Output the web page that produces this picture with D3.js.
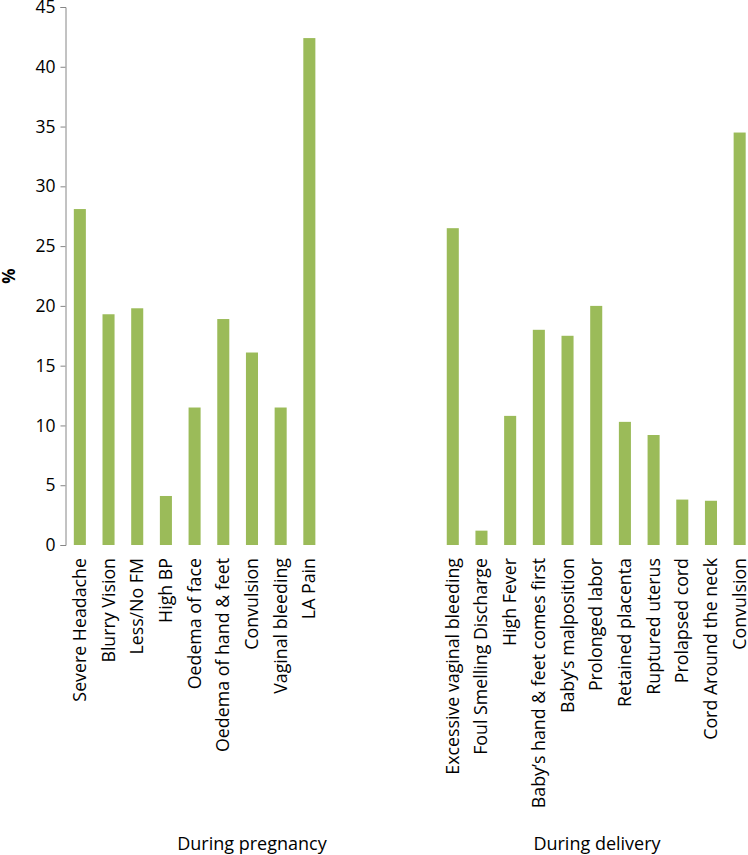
<!DOCTYPE html>
<html><head><meta charset="utf-8">
<script src="https://cdn.jsdelivr.net/npm/d3@7"></script>
<style>body{margin:0;background:#fff}svg{display:block}text{font-family:"Open Sans",sans-serif;fill:#000}</style>
</head><body><div id="chart"></div>
<script>
const pregnancyLabels = ["Severe Headache","Blurry Vision","Less/No FM","High BP","Oedema of face","Oedema of hand & feet","Convulsion","Vaginal bleeding","LA Pain"];
const pregnancyValues = [28.1,19.3,19.8,4.1,11.5,18.9,16.1,11.5,42.4];
const deliveryLabels = ["Excessive vaginal bleeding","Foul Smelling Discharge","High Fever","Baby’s hand & feet comes first","Baby’s malposition","Prolonged labor","Retained placenta","Ruptured uterus","Prolapsed cord","Cord Around the neck","Convulsion"];
const deliveryValues = [26.5,1.2,10.8,18.0,17.5,20.0,10.3,9.2,3.8,3.7,34.5];
const groupLabels = ["During pregnancy","During delivery"];
const yTicks = [0,5,10,15,20,25,30,35,40,45];
const gapSlots = 4;

const W = 748, H = 855;
const svg = d3.select("#chart").append("svg").attr("width", W).attr("height", H);

const data = [];
pregnancyLabels.forEach((l,i)=>data.push({key:"p"+i,label:l,value:pregnancyValues[i],group:0}));
for(let g=0; g<gapSlots; g++) data.push({key:"gap"+g,label:"",value:null,group:-1});
deliveryLabels.forEach((l,i)=>data.push({key:"d"+i,label:l,value:deliveryValues[i],group:1}));

const x = d3.scaleBand().domain(data.map(d=>d.key)).range([65.5, 754]).paddingInner(0.58).paddingOuter(0.29);
const y = d3.scaleLinear().domain([0,45]).range([545,7]);

// y axis
const yAxis = svg.append("g").attr("transform","translate(65.5,0)")
  .call(d3.axisLeft(y).tickValues(yTicks).tickSize(5).tickPadding(5).tickFormat(d3.format("d")));
yAxis.select(".domain").attr("stroke","#868686");
yAxis.selectAll(".tick line").attr("stroke","#868686");
yAxis.selectAll(".tick text").style("font-size","17.5px").attr("fill","#000");

// bars
svg.append("g").selectAll("rect").data(data.filter(d=>d.value!==null)).join("rect")
  .attr("x", d=>x(d.key)).attr("width", x.bandwidth())
  .attr("y", d=>y(d.value)).attr("height", d=>y(0)-y(d.value))
  .attr("fill","#9BBB59");

// category labels
svg.append("g").selectAll("text").data(data.filter(d=>d.label)).join("text")
  .attr("transform", d=>`translate(${x(d.key)+x.bandwidth()/2+6},558) rotate(-90)`)
  .attr("text-anchor","end")
  .style("font-size","17.8px")
  .text(d=>d.label);

// y title
svg.append("text").attr("transform","translate(15,276) rotate(-90)")
  .attr("text-anchor","middle").style("font-size","17px").style("font-weight","bold").text("%");

// group labels
svg.append("text").attr("x", 252).attr("y", 850).attr("text-anchor","middle").style("font-size","18px").text(groupLabels[0]);
svg.append("text").attr("x", 597).attr("y", 850).attr("text-anchor","middle").style("font-size","18px").text(groupLabels[1]);
</script></body></html>
